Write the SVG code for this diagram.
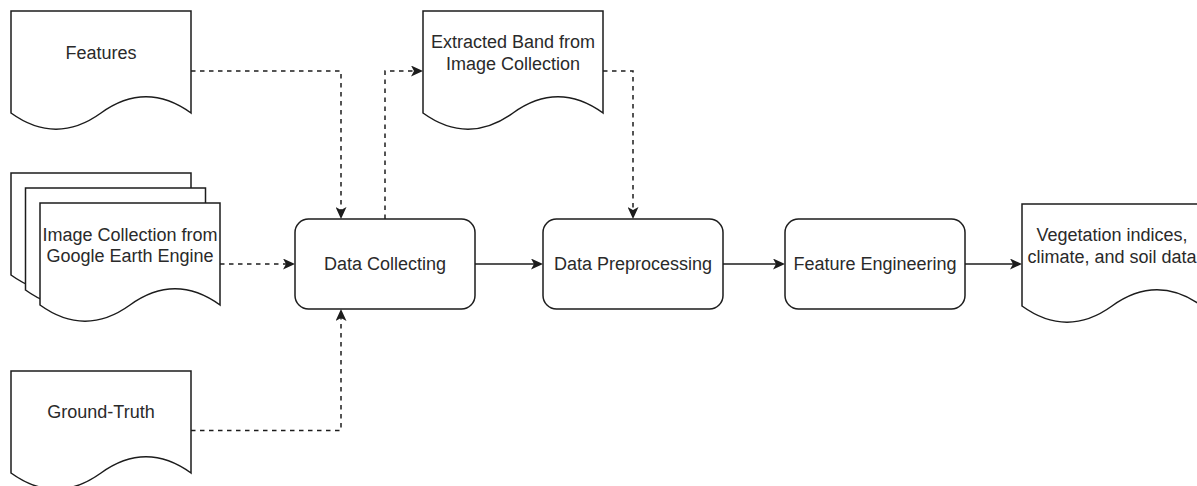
<svg xmlns="http://www.w3.org/2000/svg" xmlns:xlink="http://www.w3.org/1999/xlink" width="1197" height="486" viewBox="0 0 1197 486">
  <style>
    .shape { fill: #ffffff; stroke: #1c1c1c; stroke-width: 1.5; }
    .label { font-family: "Liberation Sans", Arial, sans-serif; font-size: 18px; fill: #2a2a2a; text-anchor: middle; }
    .flow { fill: none; stroke: #1c1c1c; stroke-width: 1.5; }
    .dashed { stroke-dasharray: 4.5 4.5; }
  </style>
  <defs>
    <!-- document shape: 180 x 120 with wavy bottom edge -->
    <path id="doc" d="M0,0 H180 V102 Q135,69.6 90,102 Q45,134.4 0,102 Z"/>
    <marker id="arrow" markerUnits="userSpaceOnUse" viewBox="0 0 12 11" markerWidth="12" markerHeight="11" refX="6" refY="5.5" orient="auto">
      <path d="M0,0 L12,5.5 L0,11 L3,5.5 Z" fill="#1c1c1c"/>
    </marker>
  </defs>

  <rect width="1197" height="486" fill="#ffffff"/>

  <!-- connectors -->
  <g id="connectors">
    <path class="flow dashed" d="M191,71 H341 V213" marker-end="url(#arrow)"/>
    <path class="flow dashed" d="M385,219 V71 H417" marker-end="url(#arrow)"/>
    <path class="flow dashed" d="M603,71 H633 V213" marker-end="url(#arrow)"/>
    <path class="flow dashed" d="M220,264 H289" marker-end="url(#arrow)"/>
    <path class="flow dashed" d="M191,430.5 H341 V315" marker-end="url(#arrow)"/>
    <path class="flow" d="M475,264 H537" marker-end="url(#arrow)"/>
    <path class="flow" d="M723,264 H779" marker-end="url(#arrow)"/>
    <path class="flow" d="M965,264 H1016" marker-end="url(#arrow)"/>
  </g>

  <g id="features">
    <use xlink:href="#doc" href="#doc" class="shape" transform="translate(11,11)"/>
    <text class="label" x="101" y="59">Features</text>
  </g>

  <g id="image-collection">
    <use xlink:href="#doc" href="#doc" class="shape" transform="translate(11,173)"/>
    <use xlink:href="#doc" href="#doc" class="shape" transform="translate(25.5,188)"/>
    <use xlink:href="#doc" href="#doc" class="shape" transform="translate(40,203)"/>
    <text class="label" x="130" y="240.5">Image Collection from</text>
    <text class="label" x="130" y="261.5">Google Earth Engine</text>
  </g>

  <g id="ground-truth">
    <use xlink:href="#doc" href="#doc" class="shape" transform="translate(11,371)"/>
    <text class="label" x="101" y="418">Ground-Truth</text>
  </g>

  <g id="extracted-band">
    <use xlink:href="#doc" href="#doc" class="shape" transform="translate(423,11)"/>
    <text class="label" x="513" y="48">Extracted Band from</text>
    <text class="label" x="513" y="69.5">Image Collection</text>
  </g>

  <g id="data-collecting">
    <rect class="shape" x="295" y="219" width="180" height="90" rx="13.5" ry="13.5"/>
    <text class="label" x="385" y="270">Data Collecting</text>
  </g>

  <g id="data-preprocessing">
    <rect class="shape" x="543" y="219" width="180" height="90" rx="13.5" ry="13.5"/>
    <text class="label" x="633" y="270">Data Preprocessing</text>
  </g>

  <g id="feature-engineering">
    <rect class="shape" x="785" y="219" width="180" height="90" rx="13.5" ry="13.5"/>
    <text class="label" x="875" y="270">Feature Engineering</text>
  </g>

  <g id="output-data">
    <use xlink:href="#doc" href="#doc" class="shape" transform="translate(1022,204)"/>
    <text class="label" x="1112" y="241">Vegetation indices,</text>
    <text class="label" x="1112" y="262.5">climate, and soil data</text>
  </g>
</svg>
